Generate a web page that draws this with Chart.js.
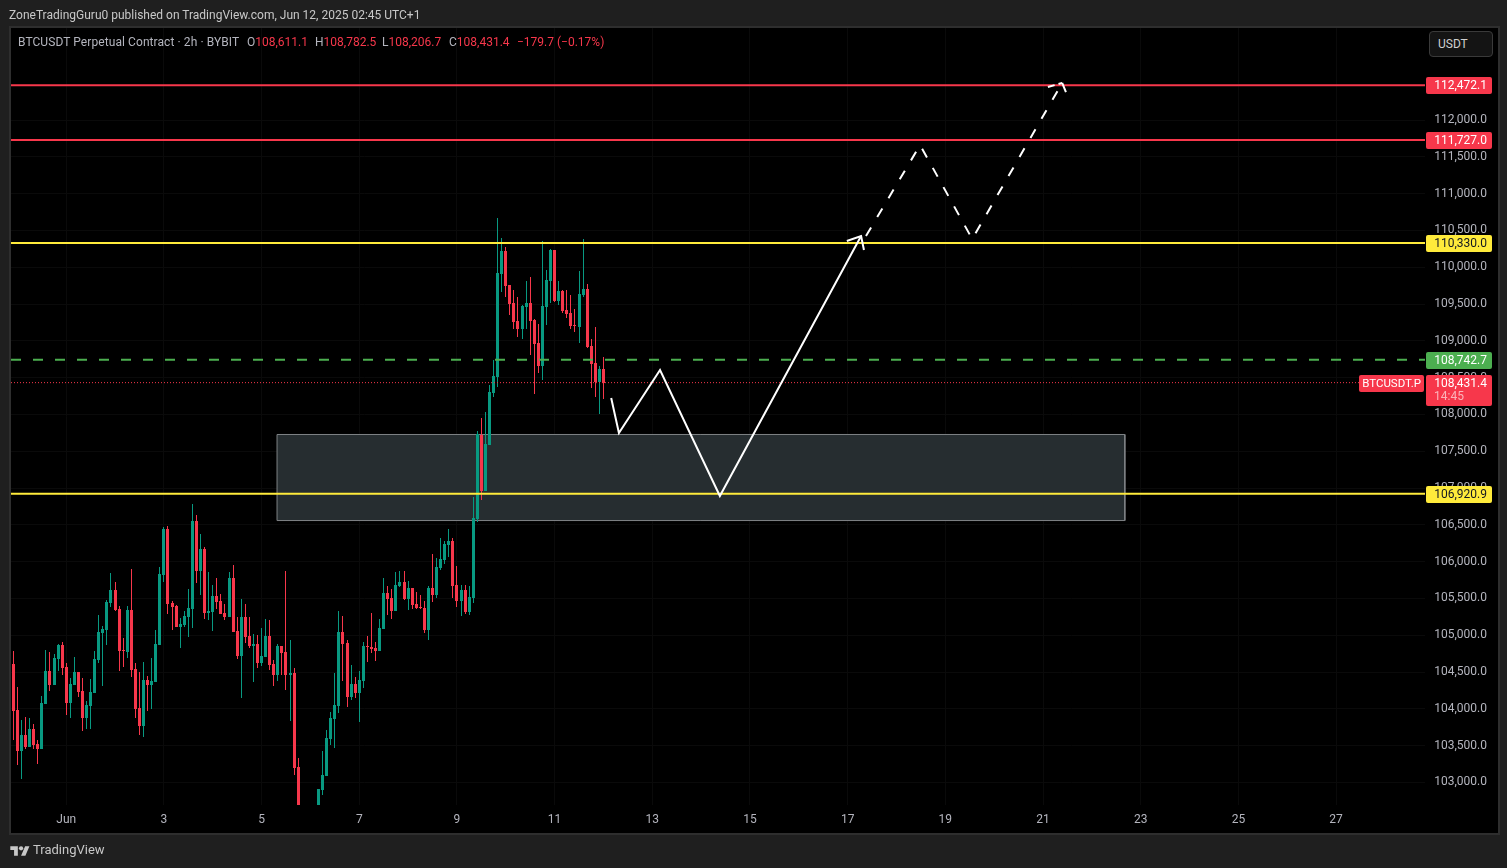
<!DOCTYPE html>
<html>
<head>
<meta charset="utf-8">
<title>BTCUSDT 2h</title>
<script src="https://cdn.jsdelivr.net/npm/chart.js@4/dist/chart.umd.min.js"></script>
<style>
  html, body { margin: 0; padding: 0; background: #1f1f1f; overflow: hidden; }
  body { width: 1507px; height: 868px; position: relative; font-family: Roboto, sans-serif; font-size: 12px; }
  #frame { position: absolute; left: 9px; top: 26px; width: 1487px; height: 805px; background: #000; border: 2px solid #2e2e2e; }
  canvas { position: absolute; left: 0; top: 0; }
  .txt { position: absolute; white-space: nowrap; line-height: 14px; }
  #publisher { left: 9px; top: 8px; color: #c8c8c8; }
  .legend { top: 35px; color: #b4b5be; }
  .red { color: #f7374b; }
  #unit { position: absolute; left: 1429px; top: 31px; width: 64px; height: 26px; box-sizing: border-box; background: #141414; border: 1px solid #3a3a3a; border-radius: 4px; color: #d0d0d0; line-height: 24px; padding-left: 8px; }
  #brand { position: absolute; left: 10px; top: 843px; color: #c8c8c8; font-size: 13px; line-height: 14px; }
  #brand svg { position: absolute; left: 0; top: 1px; }
  #brand span { position: absolute; left: 23px; top: 0; }
</style>
</head>
<body>
<div id="frame"></div>
<canvas id="grafico" width="1507" height="868"></canvas>
<div class="txt" id="publisher">ZoneTradingGuru0 published on TradingView.com, Jun 12, 2025 02:45 UTC+1</div>
<div class="txt legend" style="left:18px;letter-spacing:.08px">BTCUSDT Perpetual Contract · 2h · BYBIT</div>
<div class="txt legend" style="left:247px">O<span class="red">108,611.1</span></div>
<div class="txt legend" style="left:315px">H<span class="red">108,782.5</span></div>
<div class="txt legend" style="left:382px">L<span class="red">108,206.7</span></div>
<div class="txt legend" style="left:449px">C<span class="red">108,431.4</span></div>
<div class="txt legend red" style="left:517px">−179.7 (−0.17%)</div>
<div id="unit">USDT</div>
<div id="brand">
  <svg width="20" height="14" viewBox="0 0 36 26"><path fill="#c8c8c8" d="M14 22H7V11H0V4h14v18zM28 22h-8l7.5-18h8L28 22z"/><circle fill="#c8c8c8" cx="20" cy="8" r="4"/></svg>
  <span>TradingView</span>
</div>
<script>
const opens = [
  104609,103984,103427,103644,103481,103726,103522,103454,104065,104514,
  104323,104677,104867,104568,104079,104323,104500,104242,103875,104038,
  104215,104663,105030,105071,105438,105614,105356,104799,104772,105342,
  104541,104011,103766,104391,104323,104364,104867,105818,106443,105438,
  105397,105111,105139,105247,105356,106552,105872,106171,105302,105315,
  105533,105465,105302,105247,105777,105057,104717,105247,104989,104853,
  104880,104622,104704,104989,104609,104459,104853,104772,104459,104486,
  103209,102640,102450,102560,102420,102600,102897,103087,103590,103861,
  104038,105044,104894,104160,104337,104215,104378,104853,104840,104826,
  104785,105084,105573,105505,105329,105669,105723,105492,105641,105424,
  105383,105370,105071,105641,105546,105913,106022,106226,106280,105682,
  105465,105614,105315,105505,106579,107720,106959,107584,108291,108508,
  109908,110220,109758,109514,109269,109160,109459,109514,109283,108970,
  108658,109459,109812,110234,109541,109677,109418,109378,109215,109187,
  109622,109704,108929,108698,108440,108611.1
];
const highs = [
  104785,104296,103848,103889,103875,103794,103576,104174,104799,104772,
  104745,104880,104908,104622,104419,104704,104500,104419,104106,104405,
  104785,105275,105125,105478,105845,105723,105397,104962,105397,105899,
  104622,104500,104636,104446,104690,105071,105927,106470,106484,105465,
  105410,105234,105329,105628,106783,106633,106375,106198,105859,105682,
  105777,105560,105424,105859,105954,105247,105492,105424,105247,105016,
  105003,105098,105220,105207,104663,104880,104853,105872,104935,104554,
  103331,102680,102620,102640,102660,102910,103427,103712,103957,104486,
  105329,105261,104935,104595,104432,104514,104908,104989,105302,104908,
  105220,105777,105669,105628,105859,105872,105872,105736,105641,105587,
  105546,105465,105669,106103,106049,106321,106280,106443,106321,105940,
  105682,105682,105669,106878,107774,107951,108033,108399,108739,110668,
  110397,110274,109758,109690,109595,109486,109812,109867,109296,109228,
  110356,109962,110247,110234,109812,109690,109690,109622,109432,109948,
  110383,109772,109024,109187,108658,108782.5
];
const lows = [
  103576,103237,103046,103454,103481,103454,103250,103454,104065,104242,
  104323,104514,104459,103916,103875,104323,104160,103698,103726,103726,
  104215,104622,104310,104867,105383,105329,104514,104568,104690,104432,
  103875,103644,103617,103970,103997,104364,104867,105723,105288,105071,
  105111,104826,105111,104976,105098,105709,105546,105220,105207,105057,
  105356,105288,105207,105247,105044,104677,104147,104894,104826,104364,
  104554,104582,104704,104527,104310,104378,104459,104255,103834,103101,
  102600,102380,102350,102300,102340,102540,102829,103087,103508,103467,
  103943,104378,104024,104120,104147,103821,104283,104636,104758,104649,
  104785,105084,105275,105220,105329,105655,105478,105342,105356,105356,
  105356,105030,104935,105451,105505,105886,105967,106063,105505,105383,
  105261,105288,105275,105437,106538,106837,106959,107584,108236,108372,
  109663,109595,109351,109160,109052,109024,109160,108807,108277,108562,
  108467,109215,109514,109527,109486,109378,109310,109160,109120,108970,
  109595,108902,108359,108236,108005,108206.7
];
const closes = [
  103970,103427,103644,103481,103726,103508,103454,104079,104514,104323,
  104690,104867,104554,104079,104337,104500,104228,103875,104052,104228,
  104677,105044,105084,105451,105614,105342,104785,104785,105342,104527,
  103997,103766,104391,104323,104378,104880,105832,106443,105424,105383,
  105111,105152,105261,105370,106552,105872,106171,105302,105329,105533,
  105451,105288,105247,105777,105044,104717,105247,104976,104853,104880,
  104622,104717,104989,104595,104459,104853,104758,104459,104486,103196,
  102650,102450,102560,102420,102590,102910,103101,103603,103875,104052,
  105044,104880,104160,104337,104215,104391,104853,104840,104813,104785,
  105098,105573,105492,105329,105682,105723,105492,105641,105410,105370,
  105370,105071,105641,105546,105927,106035,106239,106280,105669,105465,
  105614,105315,105519,106592,107734,106959,107598,108304,108522,109921,
  110220,109745,109500,109255,109160,109473,109514,109269,108957,108658,
  109473,109826,110234,109541,109677,109405,109364,109201,109201,109636,
  109704,108916,108685,108440,108617,108431.4
];

// eixo x em numero de barras (2h), eixo y em preco
const xTickBars = [13,37,61,85,109,133,157,181,205,229,253,277,301,325];
const xTickLabels = ["Jun","3","5","7","9","11","13","15","17","19","21","23","25","27"];
const yTicks = [103000,103500,104000,104500,105000,105500,106000,106500,107000,107500,108000,108500,109000,109500,110000,110500,111000,111500,112000];

const redLevels = [112472.1, 111727.0];
const yellowLevels = [110330.0, 106920.9];
const entryPrice = 108742.7;
const lastPrice = 108431.4;
const lastCountdown = "14:45";
const symbolTag = "BTCUSDT.P";

const zoneBars = [64.8, 273.1];
const zonePrices = [106558, 107727];

const solidBars = [146.9, 148.8, 158.9, 173.6, 208.3];
const solidPrices = [108223, 107747, 108603, 106891, 110424];
const arrowBars = [204.8, 208.3, 209.0];
const arrowPrices = [110356, 110424, 110234];
const dashedBars = [209.5, 222.8, 235.6, 257.7];
const dashedPrices = [110424, 111660, 110383, 112503];
const dashedBarbLeftBars = [254.2, 257.7];
const dashedBarbLeftPrices = [112448, 112503];
const dashedBarbRightBars = [257.7, 258.9];
const dashedBarbRightPrices = [112503, 112340];

const VERDE = "#089981";
const VERMELHO = "#f7374b";
const AMARELO = "#ffeb3b";
const VERDE_LINHA = "#4caf50";
const X_MIN = -0.565, X_MAX = 346.85;
const Y_MIN = 102693, Y_MAX = 113250;

function pontos(xs, ys) {
  return xs.map((x, i) => ({ x: x, y: ys[i] }));
}

function nivel(preco, cor, largura, tracejado, ordem, xFim) {
  return {
    type: "line",
    data: [{ x: X_MIN, y: preco }, { x: xFim === undefined ? X_MAX : xFim, y: preco }],
    borderColor: cor,
    borderWidth: largura,
    borderDash: tracejado || [],
    pointRadius: 0,
    order: ordem
  };
}

function traco(xs, ys, tracejado) {
  return {
    type: "line",
    data: pontos(xs, ys),
    borderColor: "#ffffff",
    borderWidth: 2,
    borderDash: tracejado || [],
    pointRadius: 0,
    tension: 0,
    order: 1
  };
}

function corCandle(i) {
  return closes[i] >= opens[i] ? VERDE : VERMELHO;
}

const formatoPreco = v => v.toLocaleString("en-US", { minimumFractionDigits: 1, maximumFractionDigits: 1 });

// encaixa as barras no pixel, igual ao grafico original
const encaixePixel = {
  id: "encaixePixel",
  afterDatasetsUpdate(chart) {
    chart.data.datasets.forEach((ds, idx) => {
      if (ds.type !== "bar") return;
      chart.getDatasetMeta(idx).data.forEach(el => {
        el.x = Math.floor(el.x) + 0.5;
        el.y = Math.round(el.y);
        el.base = Math.round(el.base);
        if (el.base === el.y) el.base = el.y + 1;
      });
    });
  }
};

function etiqueta(ctx, x, y, larg, alt, fundo, texto, corTexto, margem) {
  ctx.fillStyle = fundo;
  ctx.beginPath();
  ctx.roundRect(x, y, larg, alt, 2);
  ctx.fill();
  if (texto) {
    ctx.fillStyle = corTexto;
    ctx.textAlign = "right";
    ctx.textBaseline = "middle";
    ctx.fillText(texto, x + larg - (margem || 5), y + alt / 2 + 0.5);
  }
}

const etiquetasPreco = {
  id: "etiquetasPreco",
  afterDraw(chart) {
    const ctx = chart.ctx;
    const y = chart.scales.y;
    ctx.save();
    ctx.font = "12px Roboto";
    redLevels.forEach(p => {
      etiqueta(ctx, 1426, Math.round(y.getPixelForValue(p)) - 8, 66, 17, VERMELHO, formatoPreco(p), "#ffffff");
    });
    yellowLevels.forEach(p => {
      etiqueta(ctx, 1426, Math.round(y.getPixelForValue(p)) - 8, 66, 17, AMARELO, formatoPreco(p), "#131722");
    });
    etiqueta(ctx, 1426, Math.round(y.getPixelForValue(entryPrice)) - 8, 66, 17, VERDE_LINHA, formatoPreco(entryPrice), "#ffffff");

    const yLast = Math.round(y.getPixelForValue(lastPrice));
    ctx.font = "11.5px Roboto";
    etiqueta(ctx, 1359, yLast - 8, 65, 17, VERMELHO, symbolTag, "#ffffff", 3);
    ctx.font = "12px Roboto";
    etiqueta(ctx, 1426, yLast - 8, 66, 31, VERMELHO, "", "");
    ctx.fillStyle = "#ffffff";
    ctx.textAlign = "right";
    ctx.textBaseline = "middle";
    ctx.fillText(formatoPreco(lastPrice), 1487, yLast + 0.5);
    ctx.fillStyle = "#fbb4bb";
    ctx.textAlign = "left";
    ctx.fillText(lastCountdown, 1434, yLast + 13.5);
    ctx.restore();
  }
};

new Chart(document.getElementById("grafico"), {
  type: "bar",
  data: {
    datasets: [
      // zona
      {
        type: "line",
        data: pontos(zoneBars, [zonePrices[1], zonePrices[1]]),
        borderWidth: 0,
        backgroundColor: "#262d30",
        fill: { target: { value: zonePrices[0] } },
        pointRadius: 0,
        order: 6
      },
      {
        type: "line",
        data: pontos(
          [zoneBars[0], zoneBars[1], zoneBars[1], zoneBars[0], zoneBars[0]],
          [zonePrices[1], zonePrices[1], zonePrices[0], zonePrices[0], zonePrices[1]]
        ),
        borderColor: "#7f8386",
        borderWidth: 1,
        pointRadius: 0,
        order: 5
      },
      // pavios e corpos
      {
        type: "bar",
        data: opens.map((o, i) => ({ x: i, y: [lows[i], highs[i]] })),
        backgroundColor: opens.map((o, i) => corCandle(i)),
        barThickness: 1,
        grouped: false,
        inflateAmount: 0,
        order: 4
      },
      {
        type: "bar",
        data: opens.map((o, i) => ({ x: i, y: [o, closes[i]] })),
        backgroundColor: opens.map((o, i) => corCandle(i)),
        barThickness: 3,
        minBarLength: 1,
        grouped: false,
        inflateAmount: 0,
        order: 3
      },
      // niveis
      ...redLevels.map(p => nivel(p, VERMELHO, 2, null, 2)),
      ...yellowLevels.map(p => nivel(p, AMARELO, 2, null, 2)),
      nivel(entryPrice, VERDE_LINHA, 2, [10, 12], 2),
      nivel(lastPrice, VERMELHO, 1, [1, 2], 2, 331),
      // desenho do trade
      traco(solidBars, solidPrices),
      traco(arrowBars, arrowPrices),
      traco(dashedBars, dashedPrices, [10, 12]),
      traco(dashedBarbLeftBars, dashedBarbLeftPrices, [7, 4]),
      traco(dashedBarbRightBars, dashedBarbRightPrices, [10, 12])
    ]
  },
  options: {
    responsive: false,
    animation: false,
    events: [],
    layout: { padding: { left: 11, right: 20, top: 28, bottom: 35 } },
    plugins: { legend: { display: false }, tooltip: { enabled: false } },
    scales: {
      x: {
        type: "linear",
        offset: false,
        min: X_MIN,
        max: X_MAX,
        afterBuildTicks: axis => { axis.ticks = xTickBars.map(v => ({ value: v })); },
        afterFit: axis => { axis.height = 28; },
        grid: { color: "#0a0a0a", drawTicks: false, offset: false },
        border: { display: false },
        ticks: {
          color: "#b4b5be",
          font: { family: "Roboto", size: 12 },
          padding: 8,
          autoSkip: false,
          maxRotation: 0,
          callback: v => xTickLabels[xTickBars.indexOf(v)]
        }
      },
      y: {
        position: "right",
        min: Y_MIN,
        max: Y_MAX,
        afterBuildTicks: axis => { axis.ticks = yTicks.map(v => ({ value: v })); },
        afterFit: axis => { axis.width = 62; },
        grid: { color: "#0a0a0a", drawTicks: false },
        border: { display: false },
        ticks: {
          color: "#b4b5be",
          font: { family: "Roboto", size: 12 },
          crossAlign: "far",
          padding: 0,
          callback: v => formatoPreco(v)
        }
      }
    }
  },
  plugins: [encaixePixel, etiquetasPreco]
});
</script>
</body>
</html>
